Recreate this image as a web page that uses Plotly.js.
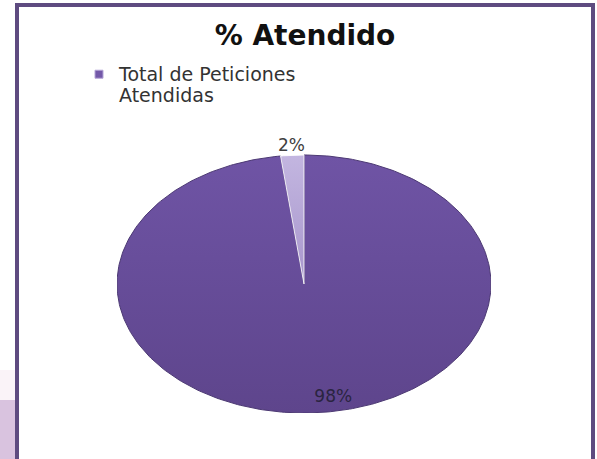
<!DOCTYPE html>
<html>
<head>
<meta charset="utf-8">
<script src="https://cdn.plot.ly/plotly-3.0.1.min.js"></script>
<style>html,body{margin:0;padding:0;background:#fff;}#chart{width:597px;height:459px;}</style>
</head>
<body>
<div id="chart"></div>
<script>
// ---- data ----
const categories = ["Total de Peticiones Atendidas", "Total de Peticiones No Atendidas"];
const values = [98, 2];
const sliceColors = ["#6a4f9b", "#b6a7d6"];
const legendLines = ["Total de Peticiones", "Atendidas"];
const chartTitle = "% Atendido";

// ---- build slices (start at 12 o'clock, clockwise) ----
const total = values.reduce((a, b) => a + b, 0);
const traces = [];
const labelX = [], labelY = [], labelText = [], labelPos = [], labelColor = [];
let cum = 0;
values.forEach((v, i) => {
  const a0 = cum / total * 2 * Math.PI;
  cum += v;
  const a1 = cum / total * 2 * Math.PI;
  const n = Math.max(4, Math.ceil((a1 - a0) / (Math.PI / 180)));
  const xs = [0], ys = [0];
  for (let k = 0; k <= n; k++) {
    const a = a0 + (a1 - a0) * k / n;
    xs.push(Math.sin(a)); ys.push(Math.cos(a));
  }
  xs.push(0); ys.push(0);
  const big = v / total > 0.5;
  traces.push({
    type: "scatter", mode: "lines", x: xs, y: ys, fill: "toself",
    fillcolor: sliceColors[i],
    fillgradient: big ? {type: "vertical", start: -1, stop: 1,
      colorscale: [[0, "#5e458c"], [0.6, "#684e9b"], [1, "#6f54a5"]]} :
      {type: "vertical", start: 0, stop: 1,
      colorscale: [[0, "#a796cc"], [1, "#c3b6e0"]]},
    line: {color: big ? "#4c3973" : "rgba(255,255,255,0.85)", width: 1},
    name: categories[i], showlegend: false, hoverinfo: "name",
    legendgroup: "g" + i
  });
  const mid = (a0 + a1) / 2;
  const pct = Math.round(v / total * 100) + "%";
  const r = big ? 0.88 : 1.065;
  labelX.push(Math.sin(mid) * r);
  labelY.push(Math.cos(mid) * r);
  labelText.push(pct);
  labelPos.push(big ? "middle right" : "middle center");
  labelColor.push(big ? "#2a2440" : "#404040");
});

traces.push({
  type: "scatter", mode: "text", x: labelX, y: labelY, text: labelText,
  textposition: labelPos, cliponaxis: false,
  textfont: {family: "DejaVu Sans, sans-serif", size: 17, color: labelColor},
  showlegend: false, hoverinfo: "skip"
});

// legend entry (line spacing set by the base legend font size)
const legendName = legendLines.map(s => "<span style='font-size:19px'>" + s + "</span>").join("<br>");
traces.push({
  type: "scatter", mode: "markers", x: [null], y: [null],
  name: legendName, legendgroup: "g0",
  marker: {symbol: "square", size: 8, color: "#7358a8", line: {color: "#b4a4d6", width: 1}},
  hoverinfo: "skip"
});

const W = 597, H = 459;
// pie ellipse: x 117..491 px, y 155..413 px for data range [-1, 1]
const yTop = 1.3;
const yPx = (413 - 155) / 2;
const topPx = 155 - (yTop - 1) * yPx;
const layout = {
  width: W, height: H,
  margin: {l: 0, r: 0, t: 0, b: 0},
  paper_bgcolor: "#ffffff", plot_bgcolor: "rgba(0,0,0,0)",
  title: {text: "<b>" + chartTitle + "</b>", x: 305 / W, xanchor: "center",
    y: 1 - 35 / H, yanchor: "middle",
    font: {family: "DejaVu Sans, sans-serif", size: 28, color: "#111111"}},
  xaxis: {visible: false, range: [-1, 1], domain: [117 / W, 491 / W], fixedrange: true},
  yaxis: {visible: false, range: [-1, yTop], domain: [(H - 413) / H, (H - topPx) / H], fixedrange: true},
  showlegend: true,
  legend: {x: 79 / W, y: 1 - 57 / H, xanchor: "left", yanchor: "top",
    bgcolor: "rgba(0,0,0,0)", valign: "top", itemwidth: 30,
    font: {family: "DejaVu Sans, sans-serif", size: 16.5, color: "#333333"}},
  shapes: [
    {type: "rect", xref: "paper", yref: "paper", x0: 0, x1: 15 / W, y0: -0.01, y1: (H - 400) / H,
      fillcolor: "#d9c3df", line: {width: 0}, layer: "below"},
    {type: "rect", xref: "paper", yref: "paper", x0: 0, x1: 15 / W, y0: (H - 400) / H, y1: (H - 370) / H,
      fillcolor: "#faf3f8", line: {width: 0}, layer: "below"},
    {type: "rect", xref: "paper", yref: "paper", x0: 17 / W, x1: 593 / W, y0: -0.05, y1: 1 - 5 / H,
      fillcolor: "rgba(0,0,0,0)", line: {color: "#5e4b80", width: 4}}
  ]
};

Plotly.newPlot("chart", traces, layout, {displayModeBar: false, staticPlot: true});
</script>
</body>
</html>
